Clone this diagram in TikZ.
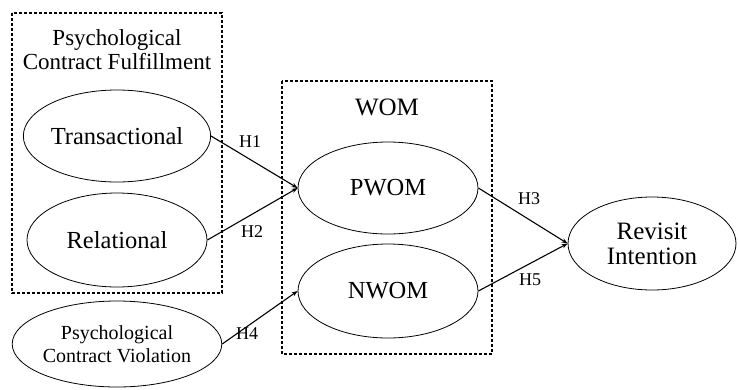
\documentclass[tikz,border=0pt]{standalone}
\usepackage{fontspec}
\setmainfont{Liberation Serif}
\usetikzlibrary{shapes.geometric,arrows.meta}

\tikzset{
  construct/.style={ellipse, draw, line width=0.8pt, inner sep=0pt,
    minimum width=180pt, minimum height=92pt, align=center,
    font=\fontsize{24.5}{25}\selectfont},
  groupbox/.style={draw, dash pattern=on 3pt off 2pt, line width=1.2pt},
  grouptitle/.style={align=center, font=\fontsize{23}{24}\selectfont},
  path/.style={line width=1.1pt, -{Stealth[length=6pt,width=4.5pt]}},
  hyp/.style={font=\fontsize{18}{18}\selectfont}
}

\begin{document}
\begin{tikzpicture}[x=1pt, y=-1pt]
  \useasboundingbox (0,0) rectangle (738,389);

  % group frames
  \draw[groupbox] (12,13) rectangle (222,293);
  \draw[groupbox] (282,81) rectangle (492,354);

  % group titles
  \node[grouptitle] (pcf) at (117,50) {Psychological\\Contract Fulfillment};
  \node[grouptitle, font=\fontsize{25}{25}\selectfont] (wom) at (387,107) {WOM};

  % constructs
  \node[construct] (trans) at (117,136) {Transactional};
  \node[construct, minimum height=94pt] (rel) at (117,240) {Relational};
  \node[construct, minimum height=86pt, font=\fontsize{20}{23}\selectfont] (pcv) at (117,344) {Psychological\\Contract Violation};
  \node[construct] (pwom) at (388,188) {PWOM};
  \node[construct, minimum height=94pt] (nwom) at (388,291) {NWOM};
  \node[construct, minimum width=168pt, minimum height=93pt, font=\fontsize{25}{25}\selectfont] (rev) at (652,243.5) {Revisit\\Intention};

  % hypothesised paths
  \draw[path] (trans.east) -- (pwom.west);
  \draw[path] (rel.east) -- (pwom.west);
  \draw[path] (pcv.east) -- (nwom.west);
  \draw[path] (pwom.east) -- (rev.west);
  \draw[path] (nwom.east) -- (rev.west);

  % path labels
  \node[hyp] (h1) at (250,142) {H1};
  \node[hyp] (h2) at (252,232) {H2};
  \node[hyp] (h4) at (247,334) {H4};
  \node[hyp] (h3) at (529,199) {H3};
  \node[hyp] (h5) at (530,280) {H5};
\end{tikzpicture}
\end{document}
